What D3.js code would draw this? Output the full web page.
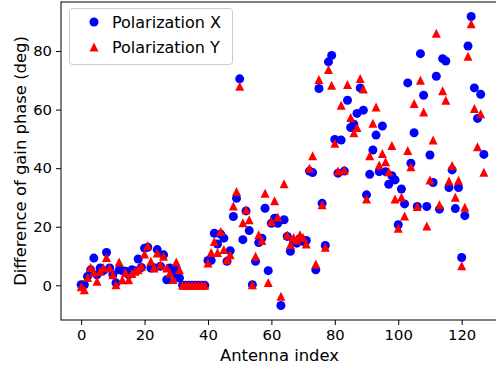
<!DOCTYPE html>
<html><head><meta charset="utf-8">
<script src="https://cdn.jsdelivr.net/npm/d3@7"></script>
<style>body{margin:0;background:#fff}svg text{font-family:"DejaVu Sans",sans-serif;fill:#000}</style>
</head><body><svg id="c" width="496" height="371"></svg>
<script>
const antennaIndex = d3.range(128);
const polX = [0.2,0.2,3,5.3,9.3,3.6,5.9,5,11.2,5.9,3.6,0.8,5.3,5,4.8,3.6,5.3,5,9,6.1,
12.7,13,5.9,6,12.2,6.5,10.4,1.9,5.9,4,5.5,2.5,0,0,0,0,0,0,0,0,
8.5,8.5,17.8,14.1,17.5,16.1,8.2,11.8,23.5,29.7,70.5,15.6,25.4,18.7,0.2,8.2,14.6,16.1,26.3,5,
21.2,22.9,21.2,-6.9,22.4,16.7,11.6,15,14.4,16,15,15.3,39,38.5,5.3,67.2,28,13.6,76.3,78.5,
49.8,38.3,49.6,39,63.2,53.9,55,58.7,67.4,59.8,30.9,37.9,46.2,51.3,38.8,54.4,38.8,34.5,37.4,36,
20.7,32.9,27.8,69.1,41.7,52.1,26.9,79.1,64.9,26.9,44.5,35.1,71.4,26,77.4,76.6,33.4,39.4,26.2,33.4,
9.5,23.8,81.7,91.8,67.4,57,65.2,44.7];
const polY = [-0.5,-1.5,2.7,6.1,4.5,1.4,4.8,6,9.5,5.9,3.6,0.2,8,1.9,4.4,1.9,4,4.8,5.3,6.5,
10.7,13.6,8.2,5.9,11,7,9.9,5.9,4.2,2,8,5.3,0,0,0,0,0,0,0,0,
7.6,11.2,15,11.2,18.4,12.2,8.7,10.4,27.1,32,68,21.4,25.8,22.4,0.2,9.9,17.3,15.3,31.4,1,
21.8,28.9,23.3,-3.7,34.7,17.2,13.9,16.3,15.5,17.3,16.3,14.1,40,44.2,7.3,70.3,27.5,13,73.7,68.3,
48.5,39,61.5,39.4,68.6,57.3,52.1,53.9,70.6,67,29.5,44.2,55.3,60.9,41.1,45,42.2,38.8,47.7,29.5,
19.5,30.1,23.7,46,40.5,62.1,26.9,70,59.2,20.3,36,49.6,86.1,27.5,66.4,63.2,35.6,40.9,30.1,35.9,
6.7,26.7,78.2,89.3,60.4,47.3,58.6,38.6];
const xTicks = [0,20,40,60,80,100,120];
const yTicks = [0,20,40,60,80];
const seriesNames = ["Polarization X","Polarization Y"];
const seriesColors = ["#0000ff","#ff0000"];

const svg = d3.select("#c");
const L=61, T=2, B=320, R=504;
const xmin=d3.min(antennaIndex), xmax=d3.max(antennaIndex);
const allV=polX.concat(polY);
const vmin=d3.min(allV), vmax=d3.max(allV);
const x=d3.scaleLinear().domain([xmin-(xmax-xmin)*0.05, xmax+(xmax-xmin)*0.05]).range([L,R]);
const y=d3.scaleLinear().domain([vmin-(vmax-vmin)*0.05, vmax+(vmax-vmin)*0.05]).range([B,T]);

const tri = s => `M0,${-s}L${s},${s}L${-s},${s}Z`;
const g=svg.append("g");
g.selectAll("circle.px").data(antennaIndex).enter().append("circle")
 .attr("cx",i=>x(i)).attr("cy",i=>y(polX[i])).attr("r",4.5).attr("fill",seriesColors[0]);
g.selectAll("path.py").data(antennaIndex).enter().append("path")
 .attr("d",tri(4.5)).attr("transform",i=>`translate(${x(i)},${y(polY[i])})`).attr("fill",seriesColors[1]);

// frame
svg.append("rect").attr("x",L).attr("y",T).attr("width",R-L).attr("height",B-T)
 .attr("fill","none").attr("stroke","#000").attr("stroke-width",1);

const xa=svg.append("g").attr("transform",`translate(0,${B})`)
 .call(d3.axisBottom(x).tickValues(xTicks).tickSize(5).tickPadding(4));
const ya=svg.append("g").attr("transform",`translate(${L},0)`)
 .call(d3.axisLeft(y).tickValues(yTicks).tickSize(5).tickPadding(4));
[xa,ya].forEach(a=>{a.select(".domain").remove();
 a.selectAll("text").attr("font-size",14.8).attr("font-family","DejaVu Sans").attr("fill","#000");
 a.selectAll("line").attr("stroke","#000");});

svg.append("text").attr("x",(L+R)/2-3).attr("y",361).attr("text-anchor","middle")
 .attr("font-size",16.4).text("Antenna index");
svg.append("text").attr("transform",`translate(26,${(T+B)/2}) rotate(-90)`).attr("text-anchor","middle")
 .attr("font-size",16.4).text("Difference of gain phase (deg)");

// legend
const lg=svg.append("g");
lg.append("rect").attr("x",69.5).attr("y",8.5).attr("width",163).attr("height",56).attr("rx",3)
 .attr("fill","#fff").attr("fill-opacity",0.8).attr("stroke","#cccccc");
seriesNames.forEach((n,k)=>{
 const yy=22+k*25;
 if(k===0) lg.append("circle").attr("cx",94).attr("cy",yy).attr("r",4.5).attr("fill",seriesColors[0]);
 else lg.append("path").attr("d",tri(4.5)).attr("transform",`translate(94,${yy})`).attr("fill",seriesColors[1]);
 lg.append("text").attr("x",112).attr("y",yy+5.8).attr("font-size",16).text(n);
});
</script></body></html>
